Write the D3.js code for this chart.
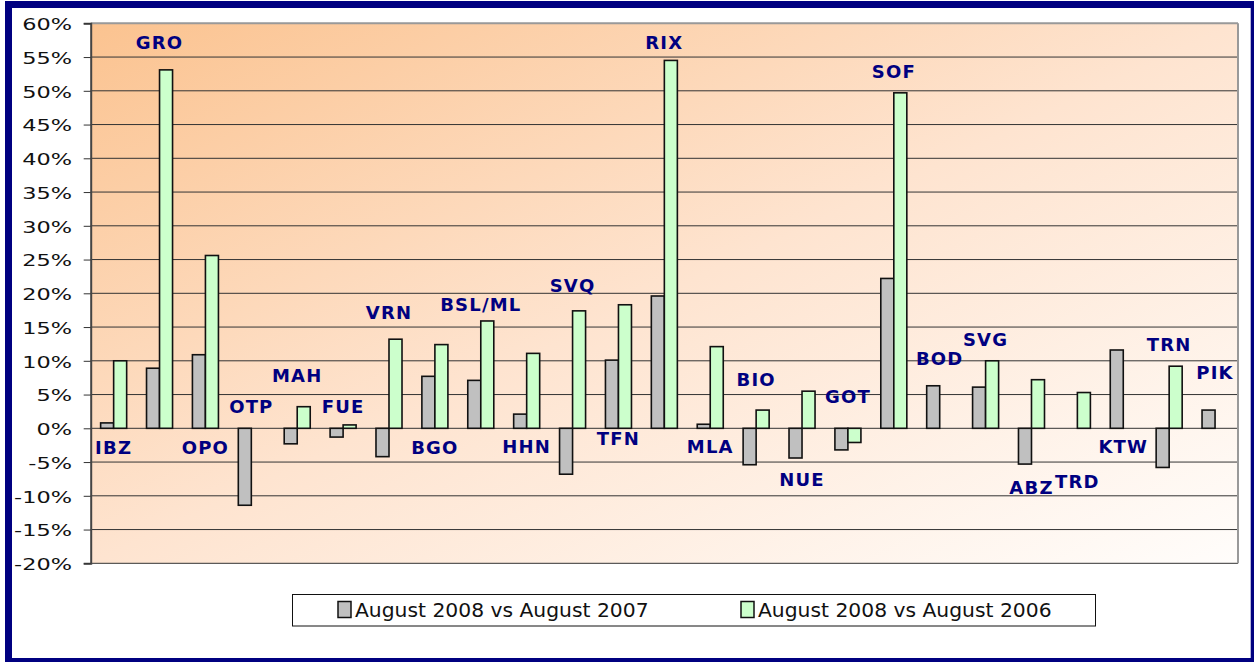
<!DOCTYPE html>
<html>
<head>
<meta charset="utf-8">
<script src="https://cdn.jsdelivr.net/npm/d3@7"></script>
<style>
  body { margin: 0; background: #fff; }
  svg { display: block; }
</style>
</head>
<body>
<svg id="chart" width="1254" height="662"></svg>
<script>
// airports (category labels)
var airports = ["IBZ", "GRO", "OPO", "OTP", "MAH", "FUE", "VRN", "BGO", "BSL/ML", "HHN",
                "SVQ", "TFN", "RIX", "MLA", "BIO", "NUE", "GOT", "SOF", "BOD", "SVG",
                "ABZ", "TRD", "KTW", "TRN", "PIK"];

// growth in %, null = no bar
var vs2007 = [0.8, 8.9, 10.9, -11.4, -2.3, -1.3, -4.2, 7.7, 7.1, 2.1,
              -6.8, 10.1, 19.6, 0.6, -5.4, -4.4, -3.2, 22.2, 6.3, 6.1,
              -5.3, 0, 11.6, -5.8, 2.7];
var vs2006 = [10.0, 53.1, 25.6, null, 3.2, 0.5, 13.2, 12.4, 15.9, 11.1,
              17.4, 18.3, 54.5, 12.1, 2.7, 5.5, -2.1, 49.7, null, 10.0,
              7.2, 5.3, null, 9.2, null];

// value (%) where each airport name sits
var labelAt = [-2.9, 57.2, -2.9, 3.2, 7.9, 3.3, 17.1, -2.8, 18.4, -2.7,
               21.1, -1.5, 57.2, -2.7, 7.2, -7.6, 4.8, 52.9, 10.3, 13.1,
               -8.7, -7.8, -2.7, 12.5, 8.3];

var yTicks = d3.range(-20, 61, 5);
var seriesNames = ["August 2008 vs August 2007", "August 2008 vs August 2006"];
var seriesColors = ["#C0C0C0", "#CCFFCC"];

var svg = d3.select("#chart");
var plotL = 90.7, plotR = 1238, plotT = 23.3, plotB = 563.3;

// outer navy frame
svg.append("rect")
    .attr("x", 8.5).attr("y", 4.5)
    .attr("width", 1245.7).attr("height", 657)
    .attr("fill", "#fff")
    .attr("stroke", "#000080")
    .attr("stroke-width", 7);

var defs = svg.append("defs");
var grad = defs.append("linearGradient")
    .attr("id", "bg")
    .attr("x1", 0).attr("y1", 0).attr("x2", 1).attr("y2", 1);
grad.append("stop").attr("offset", "0%").attr("stop-color", "#FBC390");
grad.append("stop").attr("offset", "50%").attr("stop-color", "#FEE4D0");
grad.append("stop").attr("offset", "100%").attr("stop-color", "#FFFDFB");

var y = d3.scaleLinear().domain([-20, 60]).range([plotB, plotT]);
var x0 = d3.scaleBand().domain(airports).range([plotL, plotR])
    .paddingInner(0.433).paddingOuter(0.2165);
var x1 = d3.scaleBand().domain([0, 1]).range([0, x0.bandwidth()]);

svg.append("rect")
    .attr("x", plotL).attr("y", plotT)
    .attr("width", plotR - plotL).attr("height", plotB - plotT)
    .attr("fill", "url(#bg)");

// gridlines
svg.append("g")
    .selectAll("line")
    .data(yTicks)
    .enter()
    .append("line")
    .attr("x1", plotL).attr("x2", plotR)
    .attr("y1", function (d) { return y(d); })
    .attr("y2", function (d) { return y(d); })
    .attr("stroke", function (d) { return d == 60 ? "#999" : "#333"; })
    .attr("stroke-width", function (d) { return d == 60 ? 2 : 1; });

// right border of plot
svg.append("line")
    .attr("x1", plotR).attr("x2", plotR)
    .attr("y1", plotT).attr("y2", plotB)
    .attr("stroke", "#999").attr("stroke-width", 2);

// y axis
var yAxis = svg.append("g")
    .attr("transform", "translate(" + plotL + ",0)")
    .call(d3.axisLeft(y).tickValues(yTicks).tickSize(7).tickFormat(function (d) { return d + "%"; }));
yAxis.select(".domain").attr("stroke", "#444").attr("stroke-width", 2);
yAxis.selectAll(".tick line").attr("stroke", "#333");
yAxis.selectAll(".tick text")
    .attr("font-family", "DejaVu Sans, Verdana, sans-serif")
    .attr("font-size", 16.5)
    .attr("fill", "#111")
    .attr("x", -18.7 / 1.36)
    .attr("dy", "0.38em")
    .attr("transform", "scale(1.36,1)");

// bars
var rows = airports.map(function (a, i) { return { name: a, vals: [vs2007[i], vs2006[i]] }; });

var groups = svg.append("g")
    .selectAll("g")
    .data(rows)
    .enter()
    .append("g")
    .attr("transform", function (d) { return "translate(" + x0(d.name) + ",0)"; });

groups.selectAll("rect")
    .data(function (d) {
        return d.vals.map(function (v, k) { return { k: k, v: v }; })
            .filter(function (e) { return e.v !== null; });
    })
    .enter()
    .append("rect")
    .attr("x", function (d) { return x1(d.k); })
    .attr("width", x1.bandwidth())
    .attr("y", function (d) { return y(Math.max(0, d.v)); })
    .attr("height", function (d) { return Math.abs(y(d.v) - y(0)); })
    .attr("fill", function (d) { return seriesColors[d.k]; })
    .attr("stroke", "#111")
    .attr("stroke-width", 1.6);

// airport names
svg.append("g")
    .selectAll("text")
    .data(airports)
    .enter()
    .append("text")
    .attr("x", function (d) { return x0(d) + x0.bandwidth() / 2; })
    .attr("y", function (d, i) { return y(labelAt[i]) + 6.6; })
    .attr("text-anchor", "middle")
    .attr("font-family", "DejaVu Sans, Verdana, sans-serif")
    .attr("font-weight", "bold")
    .attr("font-size", 18)
    .attr("letter-spacing", 1.2)
    .attr("fill", "#000080")
    .text(function (d) { return d; });

// legend
var legend = svg.append("g");
legend.append("rect")
    .attr("x", 292.5).attr("y", 594.5)
    .attr("width", 803).attr("height", 31.5)
    .attr("fill", "#fff")
    .attr("stroke", "#111").attr("stroke-width", 1);

var legendX = [338, 741];
var items = legend.selectAll("g.item")
    .data(seriesNames)
    .enter()
    .append("g")
    .attr("class", "item")
    .attr("transform", function (d, i) { return "translate(" + legendX[i] + ",0)"; });
items.append("rect")
    .attr("x", 0).attr("y", 601.5)
    .attr("width", 13).attr("height", 16)
    .attr("fill", function (d, i) { return seriesColors[i]; })
    .attr("stroke", "#111").attr("stroke-width", 1.5);
items.append("text")
    .attr("x", 17).attr("y", 616.7)
    .attr("font-family", "DejaVu Sans, Verdana, sans-serif")
    .attr("font-size", 20.3)
    .attr("fill", "#111")
    .text(function (d) { return d; });
</script>
</body>
</html>
